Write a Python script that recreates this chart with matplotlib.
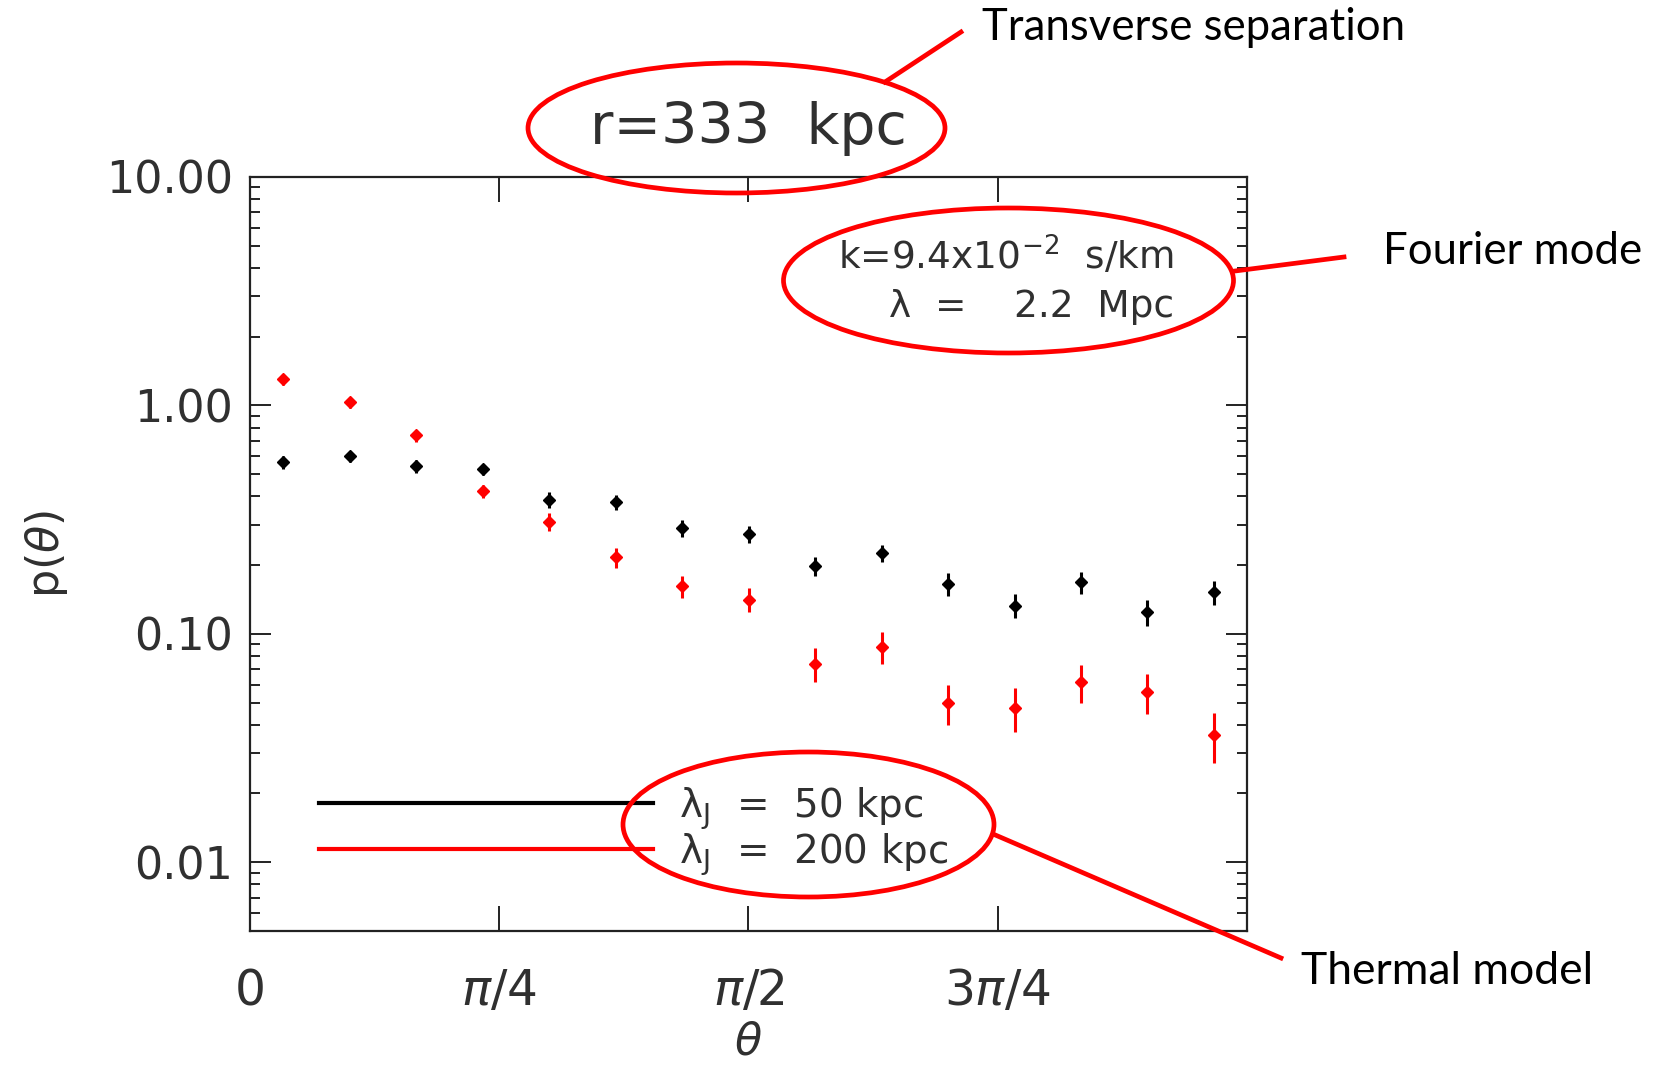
import numpy as np
import matplotlib
matplotlib.use("Agg")
import matplotlib.pyplot as plt
from matplotlib.patches import Ellipse
from matplotlib.lines import Line2D
from matplotlib.ticker import LogLocator, NullFormatter

# bin centres in theta (radians)
theta = [0.105, 0.314, 0.524, 0.733, 0.942, 1.152, 1.361, 1.571,
         1.780, 1.990, 2.199, 2.409, 2.618, 2.827, 3.037]

# lambda_J = 50 kpc (black)
p_50 = [0.565, 0.598, 0.542, 0.525, 0.387, 0.377, 0.290, 0.274,
        0.198, 0.226, 0.166, 0.133, 0.168, 0.124, 0.152]
err_50 = [0.037, 0.035, 0.036, 0.029, 0.031, 0.030, 0.024, 0.024,
          0.019, 0.020, 0.019, 0.016, 0.019, 0.016, 0.018]

# lambda_J = 200 kpc (red)
p_200 = [1.30, 1.03, 0.739, 0.421, 0.310, 0.216, 0.162, 0.141,
         0.074, 0.088, 0.050, 0.0475, 0.0614, 0.0555, 0.0362]
err_200 = [0.074, 0.058, 0.044, 0.029, 0.027, 0.021, 0.018, 0.017,
           0.0124, 0.0139, 0.010, 0.0102, 0.0116, 0.011, 0.009]

xtick_vals = [0, np.pi / 4, np.pi / 2, 3 * np.pi / 4]
xtick_labels = ["0", r"$\pi/4$", r"$\pi/2$", r"$3\pi/4$"]
ytick_vals = [0.01, 0.1, 1.0, 10.0]
ytick_labels = ["0.01", "0.10", "1.00", "10.00"]

W, H = 1656, 1070
ANNOT_FONT = ["Lato", "DejaVu Sans"]
TXT = "#303030"


def px(x, y):
    # pixel position (from top-left) -> figure fraction
    return x / W, 1 - y / H


plt.rcParams["font.family"] = ["DejaVu Sans"]
plt.rcParams["mathtext.fontset"] = "dejavusans"

fig = plt.figure(figsize=(W / 100, H / 100), dpi=100)
ax = fig.add_axes([250 / W, 1 - 931 / H, 997 / W, 754 / H])

ax.errorbar(theta, p_50, yerr=err_50, fmt="D", color="black", ms=6,
            elinewidth=2.2, capsize=0, zorder=3)
ax.errorbar(theta, p_200, yerr=err_200, fmt="D", color="red", ms=6,
            elinewidth=2.2, capsize=0, zorder=3)

ax.set_yscale("log")
ax.set_xlim(0, np.pi)
ax.set_ylim(0.005, 10)

ax.set_xticks(xtick_vals)
ax.set_xticklabels(xtick_labels)
ax.set_yticks(ytick_vals)
ax.set_yticklabels(ytick_labels)
ax.yaxis.set_minor_locator(LogLocator(base=10, subs=np.arange(2, 10)))
ax.yaxis.set_minor_formatter(NullFormatter())

ax.tick_params(axis="both", which="both", direction="in", top=True, right=True,
               width=1.4, colors="#222222", labelcolor=TXT)
ax.tick_params(axis="x", which="major", length=18, labelsize=35, pad=26)
ax.tick_params(axis="y", which="major", length=15, labelsize=32, pad=12)
ax.tick_params(axis="y", which="minor", length=7.5)
for s in ax.spines.values():
    s.set_linewidth(1.6)
    s.set_color("#222222")

ax.set_xlabel(r"$\theta$", fontsize=32, color=TXT, labelpad=4)
ax.set_ylabel(r"p($\theta$)", fontsize=32, color=TXT, labelpad=26)

# legend drawn as plain lines and text, like the original
ax.plot([0.069, 0.404], [0.170, 0.170], color="black", lw=3,
        transform=ax.transAxes)
ax.plot([0.069, 0.404], [0.109, 0.109], color="red", lw=3,
        transform=ax.transAxes)
ax.text(0.430, 0.162, r"λ$_{\rm J}$  =  50 kpc", transform=ax.transAxes,
        fontsize=28, color=TXT, va="center", ha="left")
ax.text(0.430, 0.101, r"λ$_{\rm J}$  =  200 kpc", transform=ax.transAxes,
        fontsize=28, color=TXT, va="center", ha="left")

# Fourier mode text inside the panel
fig.text(*px(1174, 270), r"k=9.4x10$^{-2}$  s/km", fontsize=27, color=TXT,
         ha="right", va="baseline")
fig.text(*px(1174, 317), "λ  =    2.2  Mpc", fontsize=27, color=TXT,
         ha="right", va="baseline")

# panel title
fig.text(*px(748, 129), "r=333  kpc", fontsize=41, color=TXT,
         ha="center", va="center")

# red callouts
for cx, cy, w, h in [(736.5, 128, 417, 130), (1008.5, 280.5, 450, 145),
                     (808.5, 824.5, 371, 145)]:
    e = Ellipse(px(cx, cy), w / W, h / H, transform=fig.transFigure,
                fill=False, edgecolor="red", lw=3.4, zorder=5)
    fig.add_artist(e)

for (x0, y0), (x1, y1) in [((885, 82), (961, 32)), ((1235, 271), (1344, 257)),
                           ((993, 834), (1281, 958))]:
    a, b = px(x0, y0)
    c, d = px(x1, y1)
    fig.add_artist(Line2D([a, c], [b, d], transform=fig.transFigure,
                          color="red", lw=3.4, zorder=5))

fig.text(*px(982, 40), "Transverse separation", fontsize=31.5, family=ANNOT_FONT,
         ha="left", va="baseline")
fig.text(*px(1383, 264), "Fourier mode", fontsize=31.5, family=ANNOT_FONT,
         ha="left", va="baseline")
fig.text(*px(1301, 984), "Thermal model", fontsize=32, family=ANNOT_FONT,
         ha="left", va="baseline")

fig.savefig("out.png", dpi=100)
